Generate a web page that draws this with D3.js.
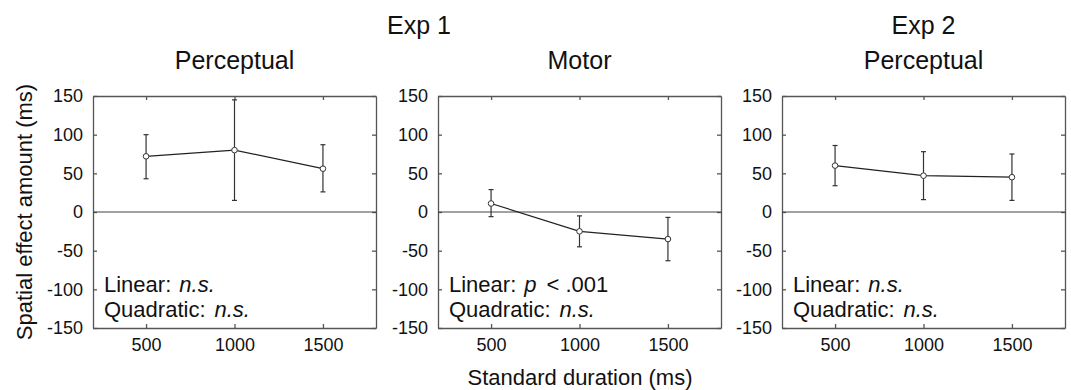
<!DOCTYPE html>
<html lang="en">
<head>
    <meta charset="UTF-8">
    <title>Spatial effect by standard duration</title>
    <script src="https://d3js.org/d3.v7.min.js"></script>
    <style>
        body { margin: 0; background: #fff; }
        text { font-family: "Liberation Sans", Arial, sans-serif; fill: #111; }
        .axis path, .axis line { stroke: #555; stroke-width: 1.3px; }
        .axis text { font-size: 18px; fill: #111; font-family: "Liberation Sans", Arial, sans-serif; }
    </style>
</head>
<body>
    <svg width="1071" height="390"></svg>
    <script>
        // data
        const durations = [500, 1000, 1500];
        const panelTitles = ["Perceptual", "Motor", "Perceptual"];
        const expTitles = ["Exp 1", "", "Exp 2"];
        const means = [
            [72, 80, 56],
            [11, -25, -35],
            [60, 47, 45]
        ];
        const upper = [
            [100, 145, 87],
            [29, -5, -7],
            [86, 78, 75]
        ];
        const lower = [
            [43, 15, 26],
            [-6, -45, -63],
            [34, 16, 15]
        ];
        const linearText = ["n.s.", "p", "n.s."];
        const yTicks = [150, 100, 50, 0, -50, -100, -150];
        const xTicks = [500, 1000, 1500];

        const svg = d3.select("svg");
        const panelLeft = [93, 438, 782];
        const panelW = 283;
        const plotTop = 96, plotBottom = 328;
        const fmt = d => String(d);

        const y = d3.scaleLinear().domain([-150, 150]).range([plotBottom, plotTop]);

        panelLeft.forEach((left, i) => {
            const x = d3.scaleLinear().domain([200, 1800]).range([left, left + panelW]);
            const g = svg.append("g");

            // axes, ticks pointing inward
            g.append("g").attr("class", "axis")
                .attr("transform", `translate(0,${plotBottom})`)
                .call(d3.axisBottom(x).tickValues(xTicks).tickFormat(fmt).tickSize(-4).tickPadding(10).tickSizeOuter(0));
            g.append("g").attr("class", "axis")
                .attr("transform", `translate(0,${plotTop})`)
                .call(d3.axisTop(x).tickValues(xTicks).tickSize(-4).tickFormat("").tickSizeOuter(0));
            g.append("g").attr("class", "axis")
                .attr("transform", `translate(${left},0)`)
                .call(d3.axisLeft(y).tickValues(yTicks).tickFormat(fmt).tickSize(-4).tickPadding(10).tickSizeOuter(0));
            g.append("g").attr("class", "axis")
                .attr("transform", `translate(${left + panelW},0)`)
                .call(d3.axisRight(y).tickValues(yTicks).tickSize(-4).tickFormat("").tickSizeOuter(0));

            // zero line
            g.append("line")
                .attr("x1", left).attr("x2", left + panelW)
                .attr("y1", y(0)).attr("y2", y(0))
                .attr("stroke", "#444").attr("stroke-width", 1);

            // error bars
            durations.forEach((d, j) => {
                const cx = x(d);
                g.append("line").attr("x1", cx).attr("x2", cx)
                    .attr("y1", y(lower[i][j])).attr("y2", y(upper[i][j]))
                    .attr("stroke", "#333").attr("stroke-width", 1.2);
                [lower[i][j], upper[i][j]].forEach(v => {
                    g.append("line").attr("x1", cx - 2.5).attr("x2", cx + 2.5)
                        .attr("y1", y(v)).attr("y2", y(v))
                        .attr("stroke", "#333").attr("stroke-width", 1.2);
                });
            });

            // mean line + markers
            const line = d3.line().x((d, j) => x(durations[j])).y(d => y(d));
            g.append("path").datum(means[i])
                .attr("d", line)
                .attr("fill", "none").attr("stroke", "#222").attr("stroke-width", 1.2);
            g.selectAll("circle").data(means[i]).enter().append("circle")
                .attr("cx", (d, j) => x(durations[j]))
                .attr("cy", d => y(d))
                .attr("r", 2.8)
                .attr("fill", "#fff").attr("stroke", "#333").attr("stroke-width", 1);

            // titles
            g.append("text")
                .attr("x", left + panelW / 2).attr("y", 69)
                .attr("text-anchor", "middle")
                .style("font-size", "25px")
                .text(panelTitles[i]);

            // stats annotation
            const lin = g.append("text")
                .attr("x", left + 11).attr("y", 292)
                .style("font-size", "22px");
            lin.append("tspan").text("Linear:");
            if (linearText[i] === "p") {
                lin.append("tspan").attr("dx", 8).style("font-style", "italic").text("p");
                lin.append("tspan").attr("dx", 10).text("< .001");
            } else {
                lin.append("tspan").attr("dx", 8).style("font-style", "italic").text(linearText[i]);
            }
            const quad = g.append("text")
                .attr("x", left + 11).attr("y", 317)
                .style("font-size", "22px");
            quad.append("tspan").text("Quadratic:");
            quad.append("tspan").attr("dx", 9).style("font-style", "italic").text("n.s.");
        });

        // experiment labels
        svg.append("text").attr("x", 419).attr("y", 34)
            .attr("text-anchor", "middle").style("font-size", "25px").text(expTitles[0]);
        svg.append("text").attr("x", panelLeft[2] + panelW / 2).attr("y", 34)
            .attr("text-anchor", "middle").style("font-size", "25px").text(expTitles[2]);

        // shared axis labels
        svg.append("text")
            .attr("transform", `translate(32,${(plotTop + plotBottom) / 2}) rotate(-90)`)
            .attr("text-anchor", "middle")
            .style("font-size", "22px")
            .text("Spatial effect amount (ms)");
        svg.append("text")
            .attr("x", 580).attr("y", 385)
            .attr("text-anchor", "middle")
            .style("font-size", "22px")
            .text("Standard duration (ms)");
    </script>
</body>
</html>
